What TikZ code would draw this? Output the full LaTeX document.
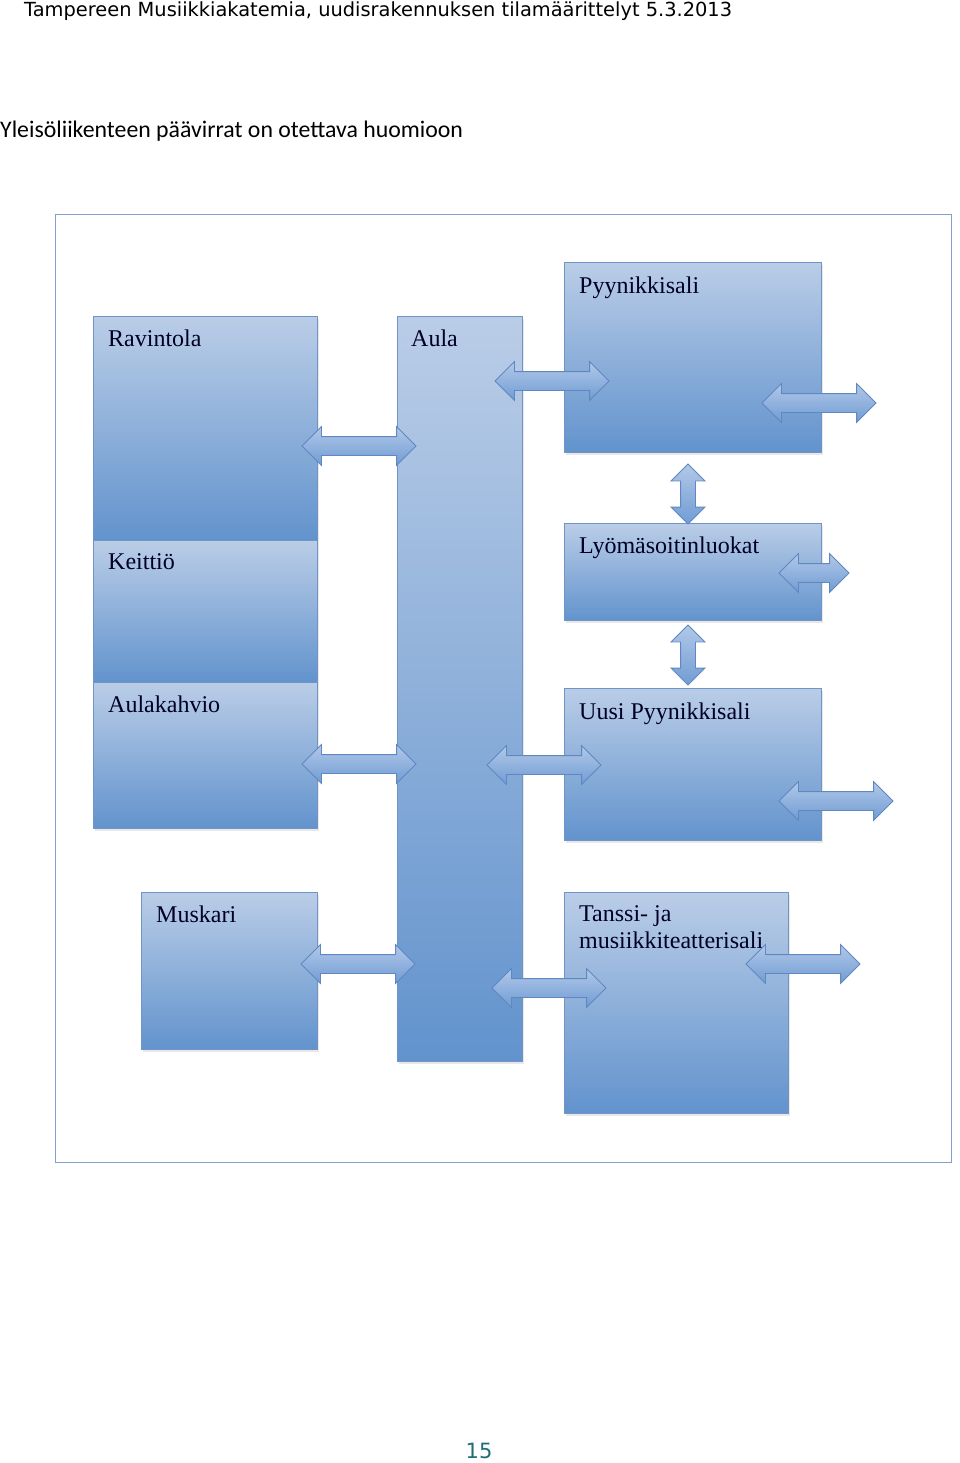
\documentclass[tikz,border=0pt]{standalone}
\usepackage{fontspec}
\usepackage{graphicx}
\usetikzlibrary{shapes.arrows,shadows}

\newfontfamily\headfont{DejaVu Sans}
\newfontfamily\introfont{Carlito}
\newfontfamily\roomfont{Liberation Serif}

\definecolor{boxtop}{RGB}{186,205,231}
\definecolor{boxbottom}{RGB}{98,147,205}
\definecolor{boxline}{RGB}{112,148,198}
\definecolor{flowtop}{RGB}{178,200,232}
\definecolor{flowbottom}{RGB}{112,156,212}
\definecolor{flowline}{RGB}{96,136,192}
\definecolor{frameline}{RGB}{130,160,208}
\definecolor{pagenum}{RGB}{30,110,118}

\tikzset{
  room/.style={draw=boxline, line width=0.9pt, top color=boxtop, bottom color=boxbottom,
    anchor=north west, inner sep=0pt,
    drop shadow={opacity=0.18, shadow xshift=2pt, shadow yshift=-3pt}},
  roomname/.style={anchor=base west, inner sep=0pt, text=black!85!blue,
    font=\roomfont\fontsize{24}{27}\selectfont, align=left},
  flow/.style={double arrow, draw=flowline, line width=0.8pt, top color=flowtop,
    bottom color=flowbottom, inner sep=0pt, text height=18pt, text depth=0pt,
    double arrow head extend=10pt, minimum height=114pt},
  upflow/.style={flow, shape border rotate=90, text height=0pt, text width=14pt,
    double arrow head extend=9.5pt, minimum height=60pt},
}

\begin{document}
\begin{tikzpicture}[x=1pt,y=-1pt]
    \useasboundingbox (0,0) rectangle (960,1463);

    % page texts
    \node[anchor=base west, inner sep=0pt] (header) at (24,17)
        {\headfont\fontsize{19.4}{22}\selectfont Tampereen Musiikkiakatemia, uudisrakennuksen tilamäärittelyt 5.3.2013};
    \node[anchor=base west, inner sep=0pt] (intro) at (0,138)
        {\introfont\fontsize{23.8}{28}\selectfont Yleisöliikenteen päävirrat on otettava huomioon};
    \node[anchor=base, inner sep=0pt, text=pagenum] (page) at (479,1458)
        {\headfont\fontsize{21}{24}\selectfont 15};

    % frame
    \draw[frameline, line width=1pt] (55,215) rectangle (951,1162);

    % rooms
    \node[room, minimum width=224pt, minimum height=224pt] (ravintola) at (93,316) {};
    \node[room, minimum width=224pt, minimum height=142pt] (keittio) at (93,540) {};
    \node[room, minimum width=224pt, minimum height=146pt] (kahvio) at (93,682) {};
    \node[room, minimum width=176pt, minimum height=157pt] (muskari) at (141,892) {};
    \node[room, minimum width=125pt, minimum height=745pt] (aula) at (397,316) {};
    \node[room, minimum width=257pt, minimum height=190pt] (pyynikki) at (564,262) {};
    \node[room, minimum width=257pt, minimum height=97pt] (lyoma) at (564,523) {};
    \node[room, minimum width=257pt, minimum height=152pt] (uusi) at (564,688) {};
    \node[room, minimum width=224pt, minimum height=221pt] (tanssi) at (564,892) {};

    \node[roomname] (ravintola-t) at (108,346) {Ravintola};
    \node[roomname] (keittio-t) at (108,569) {Keittiö};
    \node[roomname] (kahvio-t) at (108,712) {Aulakahvio};
    \node[roomname] (muskari-t) at (156,922) {Muskari};
    \node[roomname] (aula-t) at (411,346) {Aula};
    \node[roomname] (pyynikki-t) at (579,293) {Pyynikkisali};
    \node[roomname] (lyoma-t) at (579,553) {Lyömäsoitinluokat};
    \node[roomname] (uusi-t) at (579,719) {Uusi Pyynikkisali};
    \node[roomname, anchor=north west] (tanssi-t) at (579,905) {Tanssi- ja\\musiikkiteatterisali};

    % flows
    \node[flow] (f-ravintola) at (359,446) {};
    \node[flow] (f-kahvio) at (359,764) {};
    \node[flow] (f-muskari) at (358,964) {};
    \node[flow] (f-pyynikki) at (552,381) {};
    \node[flow] (f-uusi) at (544,765) {};
    \node[flow] (f-tanssi) at (549,988) {};
    \node[flow] (out-pyynikki) at (819,403) {};
    \node[flow, minimum height=70pt] (out-lyoma) at (814,573) {};
    \node[flow] (out-uusi) at (836,801) {};
    \node[flow] (out-tanssi) at (803,964) {};
    \node[upflow] (f-pl) at (688,494) {};
    \node[upflow] (f-lu) at (688,655) {};

\end{tikzpicture}
\end{document}
